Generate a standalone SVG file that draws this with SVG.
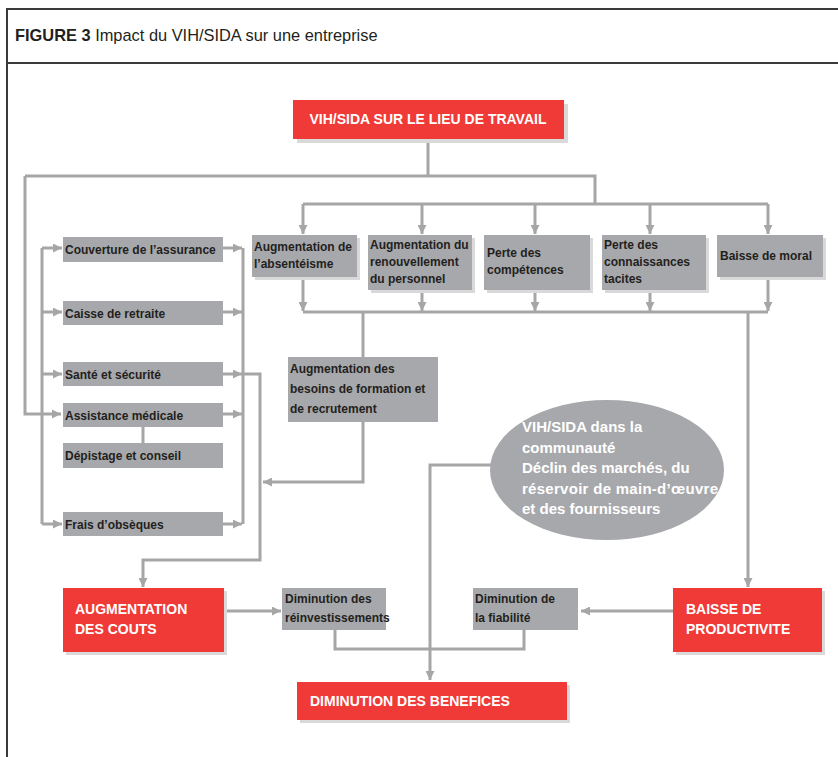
<svg xmlns="http://www.w3.org/2000/svg" width="838" height="757" viewBox="0 0 838 757">
<defs>
<style>
.frame{fill:none;stroke:#3a3a3a;stroke-width:2}
.c{fill:none;stroke:#a6a6a6;stroke-width:3}
.sh{fill:#d9d9d9}
.g{fill:#a7a8ab}
.r{fill:#ef3a37}
.t{font-family:"Liberation Sans",Arial,sans-serif;font-weight:bold;font-size:12px;fill:#231f20}
.tb{font-family:"Liberation Sans",Arial,sans-serif;font-weight:bold;font-size:14px;fill:#ffffff}
.te{font-family:"Liberation Sans",Arial,sans-serif;font-weight:bold;font-size:15px;fill:#ffffff}
</style>
<marker id="arr" viewBox="0 0 10 10" refX="10" refY="5" markerWidth="10" markerHeight="9" markerUnits="userSpaceOnUse" orient="auto">
<path d="M0,0 L10,5 L0,10 z" fill="#a6a6a6"/>
</marker>
</defs>
<rect width="838" height="757" fill="#ffffff"/>
<g id="frame">
<path class="frame" d="M7,757 V9 H838 M7,63 H838"/>
<text x="15" y="41" font-family="Liberation Sans,Arial,sans-serif" font-size="16.4" fill="#231f20"><tspan font-weight="bold">FIGURE 3</tspan> Impact du VIH/SIDA sur une entreprise</text>
</g>
<g id="connectors">
<path class="c" d="M428,139 V176" stroke-width="5"/>
<path class="c" d="M25,176 H595 V204"/>
<path class="c" d="M25,176 V414 H61" marker-end="url(#arr)"/>
<path class="c" d="M303,204 H768"/>
<path class="c" d="M303,204 V234" marker-end="url(#arr)"/>
<path class="c" d="M422,204 V234" marker-end="url(#arr)"/>
<path class="c" d="M535,204 V234" marker-end="url(#arr)"/>
<path class="c" d="M650,204 V234" marker-end="url(#arr)"/>
<path class="c" d="M768,204 V234" marker-end="url(#arr)"/>
<path class="c" d="M303,277 V311" marker-end="url(#arr)"/>
<path class="c" d="M422,290 V311" marker-end="url(#arr)"/>
<path class="c" d="M535,290 V311" marker-end="url(#arr)"/>
<path class="c" d="M650,290 V311" marker-end="url(#arr)"/>
<path class="c" d="M768,277 V311" marker-end="url(#arr)"/>
<path class="c" d="M303,312 H768"/>
<path class="c" d="M363,312 V357"/>
<path class="c" d="M748,312 V587" marker-end="url(#arr)"/>
<path class="c" d="M363,422 V482 H263" marker-end="url(#arr)"/>
<path class="c" d="M42,248 V524"/>
<path class="c" d="M42,248 H62" marker-end="url(#arr)"/>
<path class="c" d="M42,312 H62" marker-end="url(#arr)"/>
<path class="c" d="M42,374 H62" marker-end="url(#arr)"/>
<path class="c" d="M42,524 H62" marker-end="url(#arr)"/>
<path class="c" d="M223,248 H242" marker-end="url(#arr)"/>
<path class="c" d="M223,312 H242" marker-end="url(#arr)"/>
<path class="c" d="M223,374 H242" marker-end="url(#arr)"/>
<path class="c" d="M223,414 H242" marker-end="url(#arr)"/>
<path class="c" d="M223,524 H242" marker-end="url(#arr)"/>
<path class="c" d="M243,248 V524"/>
<path class="c" d="M243,374 H260 V560 H143 V587" marker-end="url(#arr)"/>
<path class="c" d="M143,427 V443" stroke-width="2"/>
<path class="c" d="M492,465 H430 V680" marker-end="url(#arr)"/>
<path class="c" d="M224,611 H281" marker-end="url(#arr)"/>
<path class="c" d="M673,611 H581" marker-end="url(#arr)"/>
<path class="c" d="M335,630 V649 H524 V630"/>
</g>
<g id="n-vih-travail">
<rect class="sh" x="297" y="104" width="271" height="39"/>
<rect class="r" x="293" y="100" width="271" height="39"/>
<text class="tb" x="428" y="124" text-anchor="middle" font-size="13.5">VIH/SIDA SUR LE LIEU DE TRAVAIL</text>
</g>
<g id="n-absenteisme">
<rect class="sh" x="255" y="238" width="105" height="42"/>
<rect class="g" x="252" y="235" width="105" height="42"/>
<text class="t" x="254" y="251">Augmentation de</text>
<text class="t" x="254" y="268">l’absentéisme</text>
</g>
<g id="n-renouvellement">
<rect class="sh" x="371" y="238" width="104" height="55"/>
<rect class="g" x="368" y="235" width="104" height="55"/>
<text class="t" x="370" y="249">Augmentation du</text>
<text class="t" x="370" y="266">renouvellement</text>
<text class="t" x="370" y="283">du personnel</text>
</g>
<g id="n-competences">
<rect class="sh" x="487" y="238" width="106" height="55"/>
<rect class="g" x="484" y="235" width="106" height="55"/>
<text class="t" x="487" y="257">Perte des</text>
<text class="t" x="487" y="274">compétences</text>
</g>
<g id="n-connaissances">
<rect class="sh" x="605" y="238" width="104" height="55"/>
<rect class="g" x="602" y="235" width="104" height="55"/>
<text class="t" x="604" y="249">Perte des</text>
<text class="t" x="604" y="266">connaissances</text>
<text class="t" x="604" y="283">tacites</text>
</g>
<g id="n-moral">
<rect class="sh" x="720" y="238" width="106" height="42"/>
<rect class="g" x="717" y="235" width="106" height="42"/>
<text class="t" x="720" y="260">Baisse de moral</text>
</g>
<g id="n-assurance">
<rect class="g" x="63" y="237" width="160" height="25"/>
<text class="t" x="65" y="254">Couverture de l’assurance</text>
</g>
<g id="n-retraite">
<rect class="g" x="63" y="301" width="160" height="24"/>
<text class="t" x="65" y="318">Caisse de retraite</text>
</g>
<g id="n-sante">
<rect class="g" x="63" y="362" width="160" height="24"/>
<text class="t" x="65" y="379">Santé et sécurité</text>
</g>
<g id="n-assistance">
<rect class="g" x="63" y="403" width="160" height="24"/>
<text class="t" x="65" y="420">Assistance médicale</text>
</g>
<g id="n-depistage">
<rect class="g" x="63" y="443" width="160" height="25"/>
<text class="t" x="65" y="460">Dépistage et conseil</text>
</g>
<g id="n-obseques">
<rect class="g" x="63" y="512" width="160" height="24"/>
<text class="t" x="65" y="529">Frais d’obsèques</text>
</g>
<g id="n-besoins">
<rect class="g" x="288" y="357" width="150" height="65"/>
<text class="t" x="290" y="373" font-size="12.5">Augmentation des</text>
<text class="t" x="290" y="393" font-size="12.5">besoins de formation et</text>
<text class="t" x="290" y="413" font-size="12.5">de recrutement</text>
</g>
<g id="n-communaute">
<ellipse class="g" cx="607" cy="470" rx="117" ry="70"/>
<text class="te" x="522" y="432">VIH/SIDA dans la</text>
<text class="te" x="522" y="453">communauté</text>
<text class="te" x="522" y="473">Déclin des marchés, du</text>
<text class="te" x="522" y="494" textLength="196" lengthAdjust="spacing">réservoir de main-d’œuvre</text>
<text class="te" x="522" y="514">et des fournisseurs</text>
</g>
<g id="n-couts">
<rect class="sh" x="66" y="591" width="161" height="64"/>
<rect class="r" x="63" y="588" width="161" height="64"/>
<text class="tb" x="75" y="614">AUGMENTATION</text>
<text class="tb" x="75" y="634">DES COUTS</text>
</g>
<g id="n-reinvestissements">
<rect class="g" x="282" y="588" width="104" height="42"/>
<text class="t" x="285" y="603" font-size="11">Diminution des</text>
<text class="t" x="285" y="622" font-size="11">réinvestissements</text>
</g>
<g id="n-fiabilite">
<rect class="g" x="473" y="588" width="105" height="42"/>
<text class="t" x="475" y="603" font-size="11">Diminution de</text>
<text class="t" x="475" y="622" font-size="11">la fiabilité</text>
</g>
<g id="n-productivite">
<rect class="sh" x="676" y="591" width="149" height="64"/>
<rect class="r" x="673" y="588" width="149" height="64"/>
<text class="tb" x="686" y="614">BAISSE DE</text>
<text class="tb" x="686" y="634">PRODUCTIVITE</text>
</g>
<g id="n-benefices">
<rect class="sh" x="300" y="685" width="270" height="38"/>
<rect class="r" x="297" y="682" width="270" height="38"/>
<text class="tb" x="310" y="706">DIMINUTION DES BENEFICES</text>
</g>
</svg>
